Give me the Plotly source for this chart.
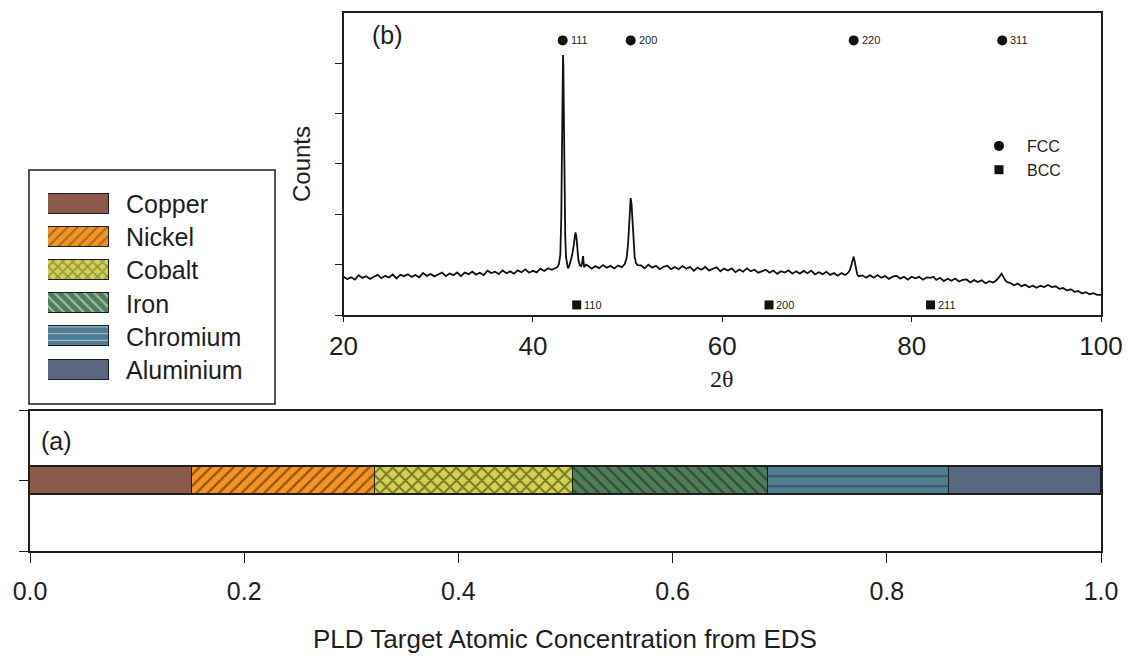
import plotly.graph_objects as go

W, H = 1129, 659

# ---------------- data ----------------
elements = ["Copper", "Nickel", "Cobalt", "Iron", "Chromium", "Aluminium"]
fractions = [0.151, 0.171, 0.185, 0.182, 0.169, 0.142]
colors = ["#8C5A4C", "#F7931E", "#D2D24C", "#4E7D5A", "#4F7E92", "#596781"]
patterns = ["", "/", "x", "\\", "-", ""]
pattern_sizes = [8, 8, 9, 8, 10.09, 8]
legend_pattern_sizes = [7, 7, 7, 7, 6.8, 7]
pattern_solidity = [0.2, 0.28, 0.38, 0.28, 0.16, 0.2]

two_theta = [
    20.0, 20.4, 20.8, 21.2, 21.6, 22.0, 22.4, 22.8, 23.2, 23.6, 24.0, 24.4, 24.8, 25.2, 25.6,
    26.0, 26.4, 26.8, 27.2, 27.6, 28.0, 28.4, 28.8, 29.2, 29.6, 30.0, 30.4, 30.8, 31.2, 31.6,
    32.0, 32.4, 32.8, 33.2, 33.6, 34.0, 34.4, 34.8, 35.2, 35.6, 36.0, 36.4, 36.8, 37.2, 37.6,
    38.0, 38.4, 38.8, 39.2, 39.6, 40.0, 40.4, 40.8, 41.2, 41.6, 42.0, 42.4,
    42.6, 42.75, 42.9, 43.0, 43.08, 43.14, 43.18, 43.22, 43.28, 43.35, 43.42, 43.5, 43.6, 43.7,
    43.8, 43.95, 44.1, 44.25, 44.4, 44.5, 44.6, 44.7, 44.8, 44.95, 45.1, 45.2, 45.3, 45.4, 45.6,
    45.8, 46.2, 46.6, 47.0, 47.4, 47.8, 48.2, 48.6, 49.0, 49.4,
    49.7, 49.9, 50.05, 50.15, 50.25, 50.33, 50.42, 50.52, 50.62, 50.75, 50.9, 51.05,
    51.4, 51.8, 52.2, 52.6, 53.0, 53.4, 53.8, 54.2, 54.6, 55.0, 55.4, 55.8, 56.2, 56.6, 57.0,
    57.4, 57.8, 58.2, 58.6, 59.0, 59.4, 59.8, 60.2, 60.6, 61.0, 61.4, 61.8, 62.2, 62.6, 63.0,
    63.4, 63.8, 64.2, 64.6, 65.0, 65.4, 65.8, 66.2, 66.6, 67.0, 67.4, 67.8, 68.2, 68.6, 69.0,
    69.4, 69.8, 70.2, 70.6, 71.0, 71.4, 71.8, 72.2, 72.6, 73.0,
    73.3, 73.5, 73.65, 73.78, 73.88, 73.98, 74.1, 74.25, 74.4,
    74.8, 75.2, 75.6, 76.0, 76.4, 76.8, 77.2, 77.6, 78.0, 78.4, 78.8, 79.2, 79.6, 80.0, 80.4,
    80.8, 81.2, 81.6, 82.0, 82.3, 82.6, 83.0, 83.4, 83.8, 84.2, 84.6, 85.0, 85.4, 85.8, 86.2,
    86.6, 87.0, 87.4, 87.8, 88.2, 88.6,
    88.9, 89.15, 89.35, 89.5, 89.65, 89.85, 90.1,
    90.4, 90.8, 91.2, 91.6, 92.0, 92.4, 92.8, 93.2, 93.6, 94.0, 94.4, 94.8, 95.2, 95.6, 96.0,
    96.4, 96.8, 97.2, 97.6, 98.0, 98.4, 98.8, 99.2, 99.6, 100.0,
]
counts = [
    713, 661, 698, 651, 739, 686, 719, 667, 709, 747, 680, 727, 695, 753, 676,
    748, 721, 759, 706, 744, 697, 784, 727, 765, 717, 755, 793, 720, 773, 741,
    793, 721, 794, 761, 809, 752, 790, 742, 830, 783, 810, 763, 836, 778, 816,
    769, 836, 799, 857, 789, 827, 796, 870, 825, 879, 848, 892,
    900, 960, 1150, 1900, 3300, 4600, 5110, 4900, 3800, 2400, 1500, 1100, 940, 880,
    900, 980, 1100, 1250, 1450, 1590, 1500, 1250, 1050, 940, 920, 980, 1120, 900, 950,
    930, 870, 920, 880, 940, 890, 925, 875, 930, 900,
    960, 1080, 1350, 1750, 2100, 2270, 2150, 1800, 1400, 1100, 980, 940,
    935, 877, 949, 891, 928, 859, 906, 928, 860, 902, 859, 921, 868, 905, 827,
    890, 849, 903, 835, 871, 898, 819, 871, 832, 874, 800, 852, 809, 875, 817,
    848, 790, 827, 848, 790, 833, 767, 820, 793, 837, 770, 819, 772, 825, 779,
    832, 756, 798, 761, 808, 747, 781, 731, 782, 745,
    790, 850, 960, 1080, 1110, 1020, 880, 760, 720,
    737, 689, 740, 690, 743, 691, 724, 667, 710, 728, 671, 709, 652, 710, 677,
    708, 650, 697, 688, 710, 646, 688, 624, 670, 630, 675, 615, 645, 655, 596,
    642, 603, 639, 580, 621, 593,
    630, 680, 740, 770, 720, 650, 600,
    590, 540, 573, 523, 550, 499, 533, 492, 530, 505, 545, 505, 520, 470, 485,
    435, 460, 410, 425, 378, 403, 363, 383, 350, 350,
]

fcc_pos = [43.15, 50.33, 73.88, 89.57]
fcc_hkl = ["111", "200", "220", "311"]
bcc_pos = [44.63, 64.94, 82.0]
bcc_hkl = ["110", "200", "211"]
fcc_level = 5400
bcc_level = 150

xrd_ticks = [20, 40, 60, 80, 100]
conc_ticks = [0.0, 0.2, 0.4, 0.6, 0.8, 1.0]
conc_ticklabels = ["0.0", "0.2", "0.4", "0.6", "0.8", "1.0"]

# ---------------- helpers (layout only; args are window pixels) ----------------
def px(x):
    return x / W

def py(y):
    return 1 - y / H

FONT = "Liberation Sans, Arial, sans-serif"
INK = "#1e1e1e"

fig = go.Figure()

# Panel (a): stacked horizontal bar
for name, frac, col, pat, ps, sol in zip(elements, fractions, colors, patterns,
                                         pattern_sizes, pattern_solidity):
    fig.add_trace(go.Bar(
        x=[frac], y=[0], orientation="h", name=name, width=0.4,
        marker=dict(color=col, line=dict(color=INK, width=1.4),
                    pattern=dict(shape=pat, fgcolor="#1a1a1a", size=ps, solidity=sol)),
        xaxis="x", yaxis="y", showlegend=False, hoverinfo="skip",
    ))

# Custom legend swatches
fig.add_trace(go.Bar(
    x=[1] * len(elements), y=elements, orientation="h", width=0.6,
    marker=dict(color=colors, line=dict(color=INK, width=1.4),
                pattern=dict(shape=patterns, fgcolor="#1a1a1a",
                             size=legend_pattern_sizes, solidity=pattern_solidity)),
    xaxis="x3", yaxis="y3", showlegend=False, hoverinfo="skip",
))

# Panel (b): XRD pattern
fig.add_trace(go.Scatter(
    x=two_theta, y=counts, mode="lines", line=dict(color="#111111", width=1.8),
    xaxis="x2", yaxis="y2", showlegend=False, hoverinfo="skip",
))
fig.add_trace(go.Scatter(
    x=fcc_pos, y=[fcc_level] * len(fcc_pos), mode="markers", name="FCC",
    marker=dict(symbol="circle", size=10, color="#111111"),
    xaxis="x2", yaxis="y2", showlegend=True,
))
fig.add_trace(go.Scatter(
    x=bcc_pos, y=[bcc_level] * len(bcc_pos), mode="markers", name="BCC",
    marker=dict(symbol="square", size=9, color="#111111"),
    xaxis="x2", yaxis="y2", showlegend=True,
))

annotations = []
for p, t in zip(fcc_pos, fcc_hkl):
    annotations.append(dict(x=p, y=fcc_level, xref="x2", yref="y2", text=t, showarrow=False,
                            xanchor="left", yanchor="middle", xshift=6,
                            font=dict(family=FONT, size=11, color=INK)))
for p, t in zip(bcc_pos, bcc_hkl):
    annotations.append(dict(x=p, y=bcc_level, xref="x2", yref="y2", text=t, showarrow=False,
                            xanchor="left", yanchor="middle", xshift=5,
                            font=dict(family=FONT, size=11, color=INK)))
for name in elements:
    annotations.append(dict(x=px(124), y=name, xref="paper", yref="y3", text=name, showarrow=False,
                            xanchor="left", yanchor="middle",
                            font=dict(family=FONT, size=25, color=INK)))

annotations += [
    dict(x=px(387), y=py(35), xref="paper", yref="paper", text="(b)", showarrow=False,
         xanchor="center", yanchor="middle", font=dict(family=FONT, size=25, color=INK)),
    dict(x=px(56), y=py(441), xref="paper", yref="paper", text="(a)", showarrow=False,
         xanchor="center", yanchor="middle", font=dict(family=FONT, size=25, color=INK)),
    dict(x=px(302), y=py(164), xref="paper", yref="paper", text="Counts", showarrow=False,
         xanchor="center", yanchor="middle", textangle=-90,
         font=dict(family=FONT, size=24, color=INK)),
    dict(x=px(722), y=py(379), xref="paper", yref="paper", text="2θ", showarrow=False,
         xanchor="center", yanchor="middle",
         font=dict(family="Liberation Serif, Times New Roman, serif", size=24, color=INK)),
    dict(x=px(565), y=py(639), xref="paper", yref="paper",
         text="PLD Target Atomic Concentration from EDS", showarrow=False,
         xanchor="center", yanchor="middle", font=dict(family=FONT, size=26, color=INK)),
]

shapes = [
    dict(type="rect", xref="paper", yref="paper", x0=px(29), x1=px(275), y0=py(404), y1=py(170),
         line=dict(color=INK, width=1.5), fillcolor="rgba(0,0,0,0)"),
]

axis_common = dict(showline=True, linecolor=INK, linewidth=1.5, mirror=True, automargin=False,
                   showgrid=False, zeroline=False, ticks="outside", tickcolor=INK, tickwidth=1.3)

fig.update_layout(
    width=W, height=H,
    margin=dict(l=0, r=0, t=0, b=0, pad=0),
    paper_bgcolor="white", plot_bgcolor="white",
    barmode="stack", bargap=0,
    font=dict(family=FONT, color=INK),
    xaxis=dict(domain=[px(30), px(1101)], range=[0, 1], tickvals=conc_ticks,
               ticktext=conc_ticklabels, ticklen=10, anchor="y", ticklabelstandoff=7,
               tickfont=dict(family=FONT, size=25, color=INK), **axis_common),
    yaxis=dict(domain=[py(551), py(410.5)], range=[-1, 1], tickvals=[-1, 0, 1],
               showticklabels=False, ticklen=9, anchor="x", **axis_common),
    xaxis2=dict(domain=[px(343.5), px(1101)], range=[20, 100], tickvals=xrd_ticks, ticklen=5,
                anchor="y2", ticklabelstandoff=2,
                tickfont=dict(family=FONT, size=26, color=INK), **axis_common),
    yaxis2=dict(domain=[py(315), py(12.7)], range=[-50, 5950],
                tickvals=[-50, 950, 1950, 2950, 3950, 4950], showticklabels=False,
                ticklen=7, anchor="x2", **axis_common),
    xaxis3=dict(domain=[px(48), px(109)], range=[0, 1], visible=False, anchor="y3",
                fixedrange=True, automargin=False),
    yaxis3=dict(domain=[py(386.6), py(187.4)], range=[5.5, -0.5], visible=False, anchor="x3",
                categoryorder="array", categoryarray=elements, fixedrange=True, automargin=False),
    legend=dict(x=px(971), y=py(129), xanchor="left", yanchor="top", bgcolor="rgba(0,0,0,0)",
                font=dict(family=FONT, size=16, color=INK), itemwidth=46, tracegroupgap=0,
                traceorder="normal"),
    annotations=annotations,
    shapes=shapes,
    showlegend=True,
)

# remove the default page margin so the figure fills the window exactly
fig.write_html(
    "out.html",
    config={"displayModeBar": False},
    post_script="document.body.style.margin='0';document.body.style.overflow='hidden';",
)
